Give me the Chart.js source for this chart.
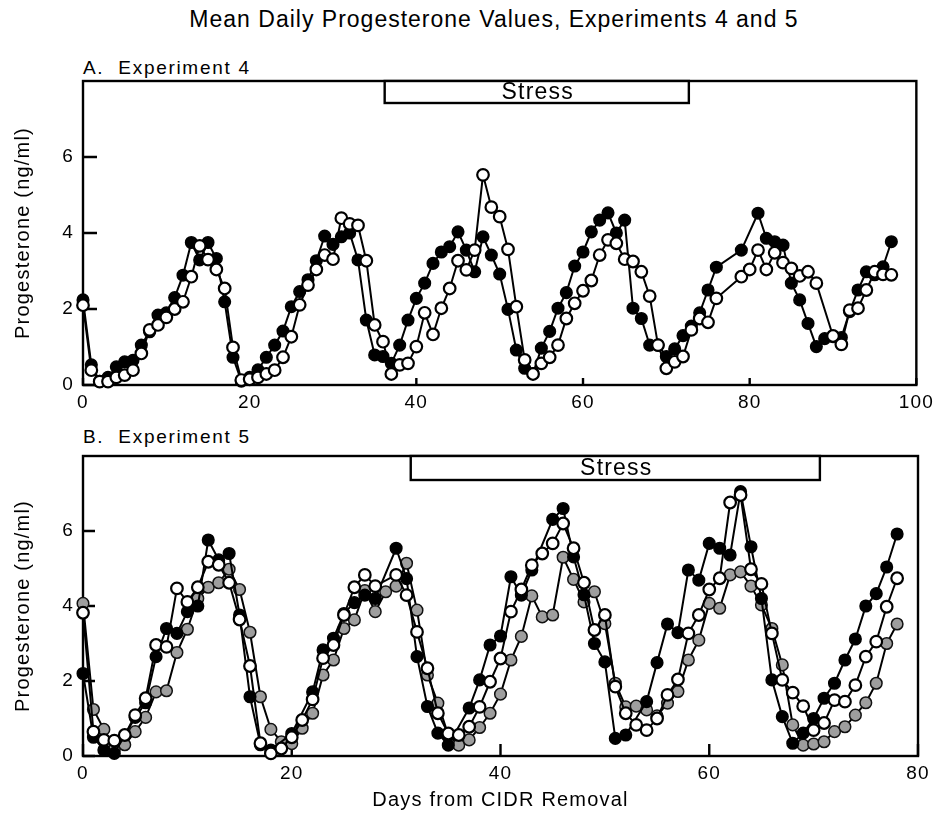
<!DOCTYPE html>
<html>
<head>
<meta charset="utf-8">
<script src="https://cdn.jsdelivr.net/npm/chart.js@4.4.1/dist/chart.umd.min.js"></script>
<style>
  body { margin: 0; background: #fff; width: 940px; height: 814px; position: relative; overflow: hidden;
         font-family: "Liberation Sans", Arial, sans-serif; color: #000; }
  .lbl { position: absolute; white-space: nowrap; }
  #title { left: 0; width: 988px; top: 6px; text-align: center; font-size: 23px; letter-spacing: 1px; }
  #labA { left: 83px; top: 57px; font-size: 19px; letter-spacing: 1.7px; }
  #labB { left: 83px; top: 426px; font-size: 19px; letter-spacing: 1.7px; }
  #wrapA { position: absolute; left: 0; top: 0; width: 940px; height: 420px; }
  #wrapB { position: absolute; left: 0; top: 420px; width: 940px; height: 394px; }
</style>
</head>
<body>
<div class="lbl" id="title">Mean Daily Progesterone Values, Experiments 4 and 5</div>
<div class="lbl" id="labA">A.&nbsp;&nbsp;Experiment 4</div>
<div class="lbl" id="labB">B.&nbsp;&nbsp;Experiment 5</div>
<div id="wrapA"><canvas id="chartA" width="940" height="420"></canvas></div>
<div id="wrapB"><canvas id="chartB" width="940" height="394"></canvas></div>
<script>
// Experiment 4, days 0..97 (ng/ml)
const blackA = [2.24,0.53,0.1,0.2,0.48,0.61,0.65,1.05,1.4,1.84,
  1.9,2.3,2.89,3.75,3.29,3.75,3.33,2.19,0.73,0.1,
  0.2,0.4,0.73,1.05,1.42,2.06,2.46,2.77,3.27,3.92,
  3.7,3.9,4.0,3.29,1.71,0.79,0.75,0.57,1.05,1.71,
  2.28,2.68,3.2,3.5,3.64,4.03,3.55,2.98,3.9,3.42,
  2.92,1.99,0.92,0.44,0.3,0.97,1.41,2.02,2.43,3.13,
  3.5,4.03,4.34,4.53,4.0,4.34,2.02,1.75,1.05,1.05,
  0.75,0.95,1.3,1.55,1.9,2.5,3.1,null,null,3.55,
  null,4.52,3.86,3.77,3.68,2.68,2.24,1.62,1.01,1.22,
  1.27,1.25,1.93,2.5,2.98,2.9,3.11,3.77];
const openA = [2.1,0.39,0.09,0.09,0.2,0.26,0.39,0.83,1.45,1.58,
  1.78,2.0,2.19,2.85,3.66,3.3,3.04,2.54,0.99,0.13,
  0.15,0.2,0.29,0.39,0.73,1.27,2.11,2.63,3.04,3.42,
  3.31,4.39,4.24,4.2,3.27,1.58,1.14,0.29,0.53,0.57,
  1.01,1.9,1.33,2.02,2.54,3.27,3.03,3.55,5.53,4.68,
  4.43,3.57,2.06,0.66,0.29,0.57,0.73,1.05,1.75,2.15,
  2.48,2.75,3.42,3.82,3.73,3.31,3.25,2.98,2.34,1.05,
  0.44,0.61,0.75,1.45,1.75,1.65,2.28,null,null,2.85,
  3.04,3.55,3.04,3.48,3.22,3.07,2.87,2.98,2.68,null,
  1.29,1.07,1.97,2.02,2.5,2.98,2.91,2.9];

// Experiment 5, days 0..78 (ng/ml)
const blackB = [2.2,0.5,0.16,0.07,null,1.03,1.42,2.65,3.4,3.27,
  3.85,4.0,5.76,5.23,5.4,3.76,1.58,0.3,0.16,null,
  0.6,null,1.71,2.83,3.14,3.8,4.09,4.29,4.2,null,
  5.54,4.73,2.65,1.32,0.61,0.29,null,1.28,2.03,2.96,
  3.2,4.78,4.29,4.96,null,6.31,6.6,5.31,4.3,3.0,
  2.51,0.47,0.56,null,1.45,2.49,3.52,3.29,4.96,4.69,
  5.67,5.54,5.36,7.05,5.58,4.2,2.03,1.05,0.34,0.61,
  1.0,1.54,1.94,2.56,3.12,4.0,4.33,5.04,5.92];
const openB = [3.82,0.65,0.43,0.41,0.56,1.09,1.54,2.96,2.91,4.47,
  4.11,4.5,5.18,5.1,4.62,3.64,2.4,0.34,0.07,0.2,
  0.5,0.96,1.51,2.61,2.96,3.76,4.5,4.83,4.53,null,
  4.83,4.29,3.31,2.34,1.14,0.6,0.56,0.78,1.31,1.98,
  2.6,3.85,4.44,5.09,5.4,5.67,6.2,5.54,4.62,3.36,
  3.76,1.85,1.14,0.83,0.69,1.0,1.63,2.04,3.27,3.76,
  4.44,4.74,6.76,6.96,4.98,4.59,3.27,2.03,1.69,1.33,
  0.69,0.88,1.49,1.45,1.89,2.65,3.05,3.98,4.74];
const grayB = [4.07,1.24,0.71,0.18,0.3,0.65,1.03,1.71,1.74,2.76,
  3.38,4.2,4.5,4.62,4.98,4.44,3.3,1.58,0.71,0.38,
  0.33,0.74,1.14,2.16,2.56,3.4,3.63,4.41,3.85,4.38,
  4.53,5.14,3.89,2.16,1.41,0.56,0.29,0.43,0.76,1.14,
  1.65,2.56,3.19,4.27,3.71,3.76,5.3,4.71,4.11,4.38,
  3.53,1.94,1.31,1.33,1.23,1.07,1.41,1.72,2.56,3.09,
  4.07,3.94,4.83,4.91,4.53,4.03,3.4,2.43,0.83,0.29,
  0.32,0.38,0.65,0.78,1.09,1.42,1.94,3.0,3.52];

const stressA = [36.2, 72.7];
const stressB = [31.4, 70.6];
const yTicks = [0, 2, 4, 6];

const FONT = "'Liberation Sans', Arial, sans-serif";

function toPoints(vals) {
  return vals.map((v, i) => ({ x: i, y: v }));
}

function series(vals, fill, border, bw, order) {
  return {
    data: toPoints(vals),
    borderColor: '#000',
    borderWidth: 2,
    pointRadius: 5.8,
    pointBackgroundColor: fill,
    pointBorderColor: border,
    pointBorderWidth: bw,
    spanGaps: true,
    clip: false,
    order: order
  };
}

// the reference lettering is set wide, so add a little tracking to canvas text
const spacingPlugin = {
  id: 'spacing',
  beforeLayout(chart) { chart.ctx.letterSpacing = '1.2px'; },
  beforeDraw(chart) { chart.ctx.letterSpacing = '1.2px'; }
};

// box around the plot, inward tick marks and the Stress bar
const framePlugin = {
  id: 'frame',
  beforeDatasetsDraw(chart, args, opts) {
    const { ctx, chartArea: a, scales } = chart;
    ctx.save();
    ctx.strokeStyle = '#000';
    ctx.lineWidth = 2.4;
    ctx.strokeRect(a.left, a.top, a.right - a.left, a.bottom - a.top);
    ctx.beginPath();
    scales.x.ticks.forEach(t => {
      const px = scales.x.getPixelForValue(t.value);
      ctx.moveTo(px, a.bottom);
      ctx.lineTo(px, a.bottom - opts.xTick);
    });
    scales.y.ticks.forEach(t => {
      const py = scales.y.getPixelForValue(t.value);
      ctx.moveTo(a.left, py);
      ctx.lineTo(a.left + opts.yTick, py);
    });
    ctx.stroke();
    ctx.restore();
  },
  afterDatasetsDraw(chart, args, opts) {
    const { ctx, chartArea: a, scales } = chart;
    const x0 = scales.x.getPixelForValue(opts.stress[0]);
    const x1 = scales.x.getPixelForValue(opts.stress[1]);
    ctx.save();
    ctx.fillStyle = '#fff';
    ctx.fillRect(x0, a.top, x1 - x0, opts.h);
    ctx.strokeStyle = '#000';
    ctx.lineWidth = 2.4;
    ctx.strokeRect(x0, a.top, x1 - x0, opts.h);
    ctx.fillStyle = '#000';
    ctx.font = '23px ' + FONT;
    ctx.letterSpacing = '1.2px';
    ctx.textAlign = 'center';
    ctx.textBaseline = 'middle';
    ctx.fillText('Stress', (x0 + x1) / 2 + 1, a.top + opts.h / 2 + 1);
    ctx.restore();
  }
};

function makeChart(id, datasets, xMax, frame, pad, xHeight, xTitle) {
  return new Chart(document.getElementById(id), {
    type: 'line',
    data: { datasets: datasets },
    plugins: [spacingPlugin, framePlugin],
    options: {
      responsive: false,
      animation: false,
      events: [],
      layout: { padding: pad },
      plugins: {
        legend: { display: false },
        tooltip: { enabled: false },
        frame: frame
      },
      scales: {
        x: {
          type: 'linear',
          min: 0,
          max: xMax,
          grid: { display: false, drawTicks: false },
          border: { display: false },
          ticks: { stepSize: 20, color: '#000', padding: 6, font: { size: 19, family: FONT } },
          title: {
            display: !!xTitle,
            text: xTitle || '',
            color: '#000',
            font: { size: 20, family: FONT },
            padding: { top: 0, bottom: 2 }
          },
          afterFit: s => { s.height = xHeight; }
        },
        y: {
          min: 0,
          max: 8,
          grid: { display: false, drawTicks: false },
          border: { display: false },
          afterBuildTicks: s => { s.ticks = yTicks.map(v => ({ value: v })); },
          ticks: { color: '#000', padding: 9, font: { size: 19, family: FONT } },
          title: {
            display: true,
            text: 'Progesterone (ng/ml)',
            color: '#000',
            font: { size: 20, family: FONT },
            padding: { top: 11, bottom: 0 }
          },
          afterFit: s => { s.width = 83; }
        }
      }
    }
  });
}

makeChart('chartA', [
  series(openA, '#fff', '#000', 2.2, 0),
  series(blackA, '#000', '#000', 1.5, 1)
], 100, { stress: stressA, h: 22, xTick: 7, yTick: 14 },
  { top: 81, right: 22, bottom: 0, left: 0 }, 35, null);

makeChart('chartB', [
  series(openB, '#fff', '#000', 2.2, 0),
  series(blackB, '#000', '#000', 1.5, 1),
  series(grayB, '#9e9e9e', '#111', 1.5, 2)
], 80, { stress: stressB, h: 24, xTick: 12, yTick: 12 },
  { top: 36, right: 22, bottom: 0, left: 0 }, 58, 'Days from CIDR Removal');
</script>
</body>
</html>
